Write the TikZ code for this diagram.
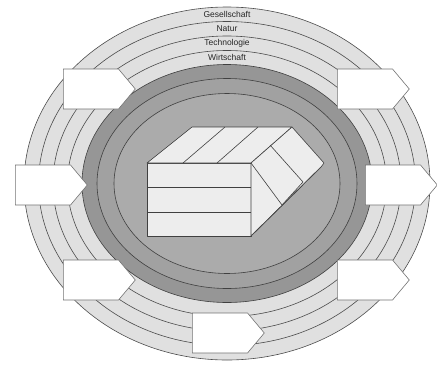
\documentclass[tikz,border=0pt]{standalone}
\usepackage{fontspec}
\setsansfont{Liberation Sans}
\usetikzlibrary{shapes.symbols}

\begin{document}
\begin{tikzpicture}[
  x=1pt, y=-1pt,
  font       = \sffamily\fontsize{8.5}{10}\selectfont,
  % light outer rings and the darker core
  band/.style  = {draw=black!70, line width=0.6pt, fill=black!12},
  core/.style  = {draw=black!75, line width=0.6pt},
  face/.style  = {draw=black!75, fill=black!7, line width=0.6pt,
                  line join=round},
  crease/.style= {draw=black!75, line width=0.6pt},
  % empty pointer boxes around the rings
  tag/.style   = {signal, signal to=east, signal pointer angle=100,
                  draw=black!55, fill=white, line width=0.6pt,
                  minimum width=72pt, minimum height=40pt,
                  inner sep=0pt, anchor=west},
  ringname/.style = {inner sep=0pt, text=black!85},
]

\useasboundingbox (0,0) rectangle (437,365);

% ── Rings ─────────────────────────────────────────────────────────────────────
\coordinate (mid) at (227,183.5);
\foreach \rx/\ry in {203/176.5, 188.5/162, 174/147.5, 159.5/133}
  \draw[band] (mid) ellipse [x radius=\rx pt, y radius=\ry pt];
\draw[core, fill=black!41] (mid) ellipse [x radius=145pt, y radius=119pt];
\draw[core, fill=black!37] (mid) ellipse [x radius=130pt, y radius=105pt];
\draw[core, fill=black!33] (mid) ellipse [x radius=113pt, y radius=90pt];

\node[ringname] (gesellschaft) at (227,14.3) {Gesellschaft};
\node[ringname] (natur)        at (227,28.8) {Natur};
\node[ringname] (technologie)  at (227,43.3) {Technologie};
\node[ringname] (wirtschaft)   at (227,57.8) {Wirtschaft};

% ── Box in the middle ─────────────────────────────────────────────────────────
\draw[face] (147,163) rectangle (251,236);
\draw[crease] (147,187) -- (251,187)
              (147,212) -- (251,212);
\draw[face] (147,163) -- (192,127) -- (292,127) -- (251,163) -- cycle;
\draw[crease] (183,163) -- (225,127)
              (217,163) -- (258,127);
\draw[face] (251,163) -- (292,127) -- (324,163) -- (321,167)
            -- (251,236) -- cycle;
\draw[crease] (270,145) -- (303,182) -- (282,205) -- (251,163);
% folded-over flap at the lower edge
\fill[black!14] (251,236) -- (321,167) -- (303,185) -- cycle;
\draw[crease] (251,236) -- (321,167)
              (251,236) -- (303,185);

% ── Pointer boxes ─────────────────────────────────────────────────────────────
\node[tag] (topleft)     at (63,89)   {};
\node[tag] (left)        at (15,185)  {};
\node[tag] (bottomleft)  at (63,280)  {};
\node[tag] (bottom)      at (192,333) {};
\node[tag] (topright)    at (337,89)  {};
\node[tag] (right)       at (365,185) {};
\node[tag] (bottomright) at (337,280) {};

\end{tikzpicture}
\end{document}
